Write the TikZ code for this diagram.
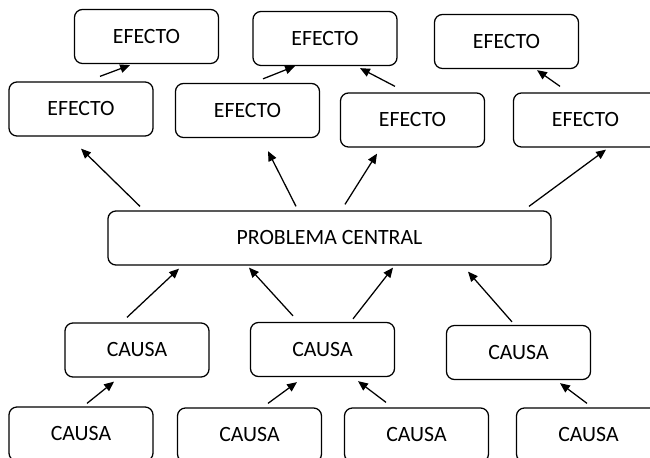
\documentclass[tikz,border=0pt]{standalone}
\usepackage{fontspec}
\setmainfont{Carlito}
\usetikzlibrary{calc}
\usetikzlibrary{arrows.meta}
\newcommand{\boxsizex}{3.6cm}
\newcommand{\boxsizey}{1.35cm}
\newcommand{\centralsizex}{11.075cm}
\tikzset{
  treebox/.style={draw, line width=0.9pt, rounded corners=0.2cm,
    minimum width=\boxsizex, minimum height=\boxsizey, inner sep=0pt,
    font=\fontsize{15.5}{18}\selectfont},
  treearrow/.style={line width=0.9pt, -{Triangle[length=7pt,width=6pt]}}
}
\begin{document}
\begin{tikzpicture}[x=0.025cm, y=-0.025cm]
    \useasboundingbox (0,0) rectangle (650,458);
    \clip (0,0) rectangle (650,458);
    % upper effects
    \node[treebox] (efectoa) at (146.5,36.5) {EFECTO};
    \node[treebox] (efectob) at (325,38.5) {EFECTO};
    \node[treebox] (efectoc) at (506.5,41.5) {EFECTO};
    % lower effects
    \node[treebox] (efectod) at (81,109) {EFECTO};
    \node[treebox] (efectoe) at (247.5,110.5) {EFECTO};
    \node[treebox] (efectof) at (412.5,120) {EFECTO};
    \node[treebox] (efectog) at (585.5,120) {EFECTO};
    % central problem
    \node[treebox, minimum width=\centralsizex] (central) at (329.5,238)
      {PROBLEMA CENTRAL};
    % upper causes
    \node[treebox] (causaa) at (137,350) {CAUSA};
    \node[treebox] (causab) at (322.5,349.5) {CAUSA};
    \node[treebox] (causac) at (518.5,352.5) {CAUSA};
    % lower causes
    \node[treebox] (causad) at (81,434) {CAUSA};
    \node[treebox] (causae) at (249.5,435) {CAUSA};
    \node[treebox] (causaf) at (416.5,435) {CAUSA};
    \node[treebox] (causag) at (588.5,435) {CAUSA};
    % effect arrows
    \draw[treearrow] ($(efectod.north)+(19,-5)$) -- ($(efectoa.south)+(-16.5,1)$);
    \draw[treearrow] ($(efectoe.north)+(15.5,-4)$) -- ($(efectob.south)+(-30,0)$);
    \draw[treearrow] ($(efectof.north)+(-17.5,-6)$) -- ($(efectob.south)+(35,2)$);
    \draw[treearrow] ($(efectog.north)+(-25.5,-6)$) -- ($(efectoc.south)+(30.5,1)$);
    \draw[treearrow] ($(central.north)+(-189.5,-4)$) -- ($(efectod.south)+(0,12)$);
    \draw[treearrow] ($(central.north)+(-33.5,-4)$) -- ($(efectoe.south)+(20.5,13)$);
    \draw[treearrow] ($(central.north)+(15.5,-6)$) -- ($(efectof.south)+(-35.5,6)$);
    \draw[treearrow] ($(central.north)+(199.5,-4)$) -- ($(efectog.south)+(20.5,2)$);
    % cause arrows
    \draw[treearrow] ($(causaa.north)+(-10,-5)$) -- ($(central.south)+(-150.5,3)$);
    \draw[treearrow] ($(causab.north)+(-29.5,-6)$) -- ($(central.south)+(-80.5,2)$);
    \draw[treearrow] ($(causab.north)+(30.5,-3)$) -- ($(central.south)+(63.5,2)$);
    \draw[treearrow] ($(causac.north)+(-6.5,-3)$) -- ($(central.south)+(138.5,6)$);
    \draw[treearrow] ($(causad.north)+(6,-3)$) -- ($(causaa.south)+(-23,4)$);
    \draw[treearrow] ($(causae.north)+(18.5,-4)$) -- ($(causab.south)+(-25.5,5)$);
    \draw[treearrow] ($(causaf.north)+(-30.5,-5)$) -- ($(causab.south)+(35.5,4)$);
    \draw[treearrow] ($(causag.north)+(-1.5,-4)$) -- ($(causac.south)+(41.5,3)$);
\end{tikzpicture}
\end{document}
